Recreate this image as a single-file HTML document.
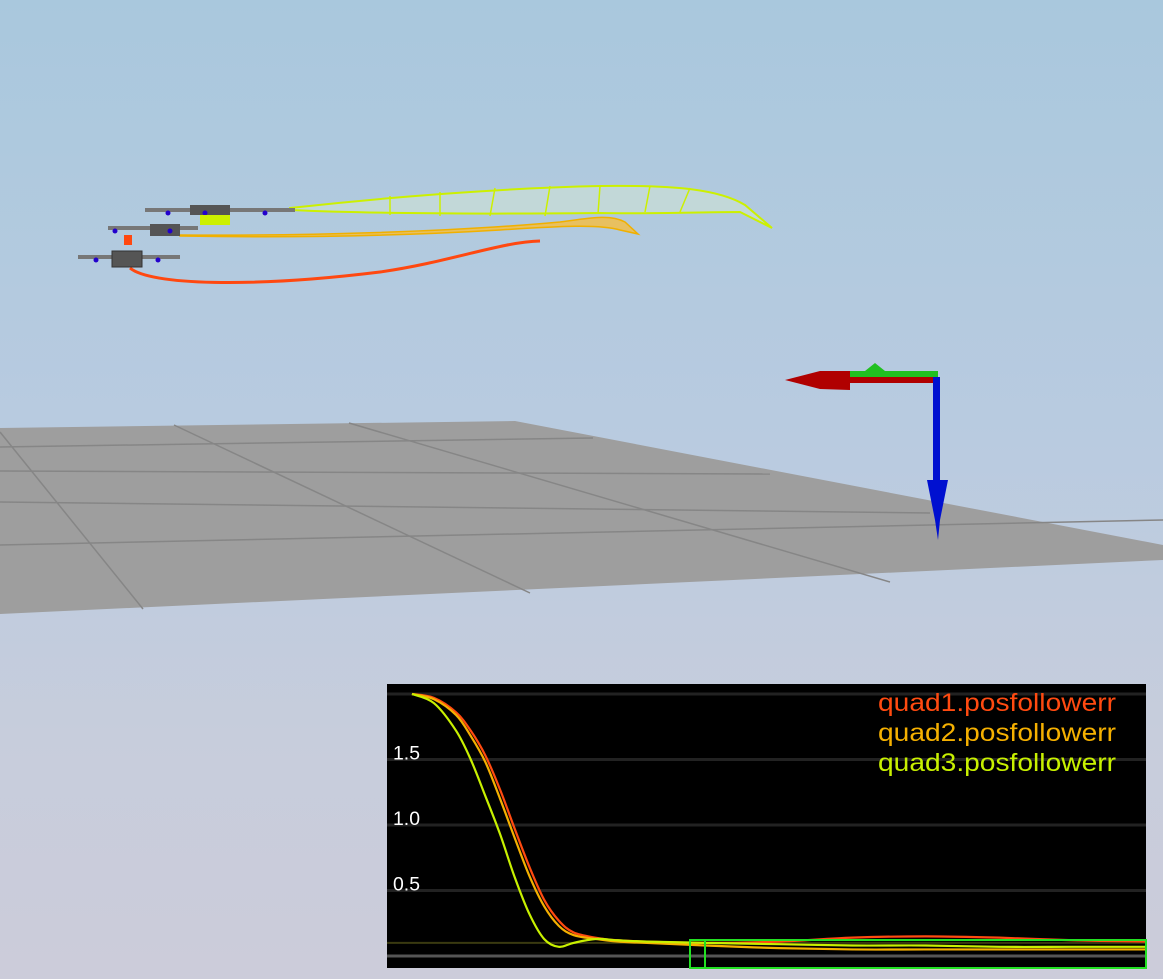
<!DOCTYPE html>
<html><head><meta charset="utf-8"><style>
html,body{margin:0;padding:0;width:1163px;height:979px;overflow:hidden}
body{background:linear-gradient(#a9c8dd 0%,#b9cbe0 45%,#c7cddc 75%,#ccccda 100%);font-family:"Liberation Sans",sans-serif}
svg{position:absolute;left:0;top:0}
</style></head><body>
<svg width="1163" height="979">
  <g>
    <polygon points="0,428 515,421 1163,545 1163,560 0,614" fill="#9e9e9e"/>
    <g stroke="#868686" stroke-width="1.5" fill="none">
      <line x1="0" y1="447" x2="593" y2="438"/>
      <line x1="0" y1="471" x2="770" y2="474"/>
      <line x1="0" y1="502" x2="930" y2="513"/>
      <line x1="0" y1="545" x2="1163" y2="520"/>
      <line x1="143" y1="609" x2="0" y2="432"/>
      <line x1="530" y1="593" x2="174" y2="425"/>
      <line x1="890" y1="582" x2="349" y2="423"/>
    </g>
  </g>
  <g>
    <rect x="848" y="371" width="90" height="6" fill="#20c020"/>
    <polygon points="865,371 875,363 885,371" fill="#20c020"/>
    <rect x="800" y="377" width="138" height="6" fill="#b00000"/>
    <polygon points="785,380 820,371 850,371 850,390 820,389" fill="#b00000"/>
    <rect x="933" y="377" width="7" height="110" fill="#0010d0"/>
    <polygon points="927,480 948,480 940,520 938,540 935,520" fill="#0010d0"/>
  </g>
  <g>
    <path d="M290,208 C380,198 500,188 600,186 C680,185 720,190 745,205 L772,228 L740,212 C700,212 650,214 600,213 C500,214 380,214 290,210 Z" fill="#c2d8d8" stroke="#ccf000" stroke-width="2"/>
    <g stroke="#ccf000" stroke-width="1.5">
      <line x1="390" y1="196" x2="390" y2="215"/><line x1="440" y1="192" x2="440" y2="216"/>
      <line x1="495" y1="188" x2="490" y2="216"/><line x1="550" y1="186" x2="545" y2="216"/>
      <line x1="600" y1="186" x2="598" y2="214"/><line x1="650" y1="186" x2="645" y2="212"/>
      <line x1="690" y1="188" x2="680" y2="212"/>
    </g>
    <path d="M180,235 C300,236 450,232 560,222 C590,218 610,214 625,222 L638,234 L620,230 C600,224 560,226 500,230 C400,236 300,238 180,236 Z" fill="#e8c060" stroke="#f0b000" stroke-width="1.5"/>
    <path d="M130,268 C150,285 250,288 380,272 C450,262 500,242 540,241" fill="none" stroke="#ff4810" stroke-width="3"/>
    <rect x="124" y="235" width="8" height="10" fill="#ff4810"/>
  </g>
  <g>
    <g>
      <rect x="145" y="208" width="150" height="4" fill="#777"/><rect x="190" y="205" width="40" height="10" fill="#555"/>
      <circle cx="168" cy="213" r="2.5" fill="#20c"/><circle cx="265" cy="213" r="2.5" fill="#20c"/><circle cx="205" cy="213" r="2.5" fill="#20c"/>
      <rect x="200" y="215" width="30" height="10" fill="#ccf000"/>
    </g>
    <g>
      <rect x="108" y="226" width="90" height="4" fill="#777"/><rect x="150" y="224" width="30" height="12" fill="#555"/>
      <circle cx="115" cy="231" r="2.5" fill="#20c"/><circle cx="170" cy="231" r="2.5" fill="#20c"/>
    </g>
    <g>
      <rect x="78" y="255" width="102" height="4" fill="#777"/><rect x="112" y="251" width="30" height="16" fill="#555" stroke="#333"/>
      <circle cx="96" cy="260" r="2.5" fill="#20c"/><circle cx="158" cy="260" r="2.5" fill="#20c"/>
    </g>
  </g>
</svg>
<svg id="chart" width="1163" height="979">
  <rect x="387" y="684" width="759" height="284" fill="#000"/>
  <g id="grid"></g>
  <g id="series"></g>
  <rect x="690" y="940" width="456" height="28" fill="none" stroke="#22e022" stroke-width="2"/>
  <line x1="705" y1="940" x2="705" y2="968" stroke="#22e022" stroke-width="2"/>
  <g font-size="25" text-anchor="start">
    <text x="878" y="711" fill="#ff4a10" textLength="238" lengthAdjust="spacingAndGlyphs">quad1.posfollowerr</text>
    <text x="878" y="741" fill="#f5b000" textLength="238" lengthAdjust="spacingAndGlyphs">quad2.posfollowerr</text>
    <text x="878" y="771" fill="#c8f000" textLength="238" lengthAdjust="spacingAndGlyphs">quad3.posfollowerr</text>
  </g>
</svg>
<script>
const times=[0,3,6,8,10,12,14,16,18,20,22,25,28,32,40,50,60,70,80,90,100];
const quad1=[2.0,1.97,1.86,1.72,1.53,1.27,0.97,0.68,0.43,0.27,0.18,0.14,0.12,0.11,0.1,0.11,0.14,0.15,0.14,0.12,0.11];
const quad2=[2.0,1.96,1.84,1.68,1.48,1.2,0.9,0.61,0.38,0.23,0.16,0.13,0.11,0.1,0.08,0.06,0.05,0.05,0.05,0.05,0.05];
const quad3=[2.0,1.93,1.72,1.5,1.22,0.93,0.6,0.32,0.13,0.07,0.1,0.13,0.12,0.11,0.1,0.09,0.08,0.08,0.07,0.07,0.07];
const yTicks=[0.5,1.0,1.5];
const gridVals=[0,0.5,1.0,1.5,2.0];
const NS='http://www.w3.org/2000/svg';
const xs=t=>412+t*7.34;
const ys=v=>956-v*131;
const grid=document.getElementById('grid');
gridVals.forEach(v=>{
  const l=document.createElementNS(NS,'line');
  l.setAttribute('x1',387);l.setAttribute('x2',1146);l.setAttribute('y1',ys(v));l.setAttribute('y2',ys(v));
  l.setAttribute('stroke',v===0?'#555':'#222');l.setAttribute('stroke-width',3);
  
  
  grid.appendChild(l);
});
const ol=document.createElementNS(NS,'line');
ol.setAttribute('x1',387);ol.setAttribute('x2',1146);ol.setAttribute('y1',ys(0.1));ol.setAttribute('y2',ys(0.1));
ol.setAttribute('stroke','#3a3a10');ol.setAttribute('stroke-width',2);


grid.appendChild(ol);
yTicks.forEach(v=>{
  const t=document.createElementNS(NS,'text');
  t.setAttribute('x',393);t.setAttribute('y',ys(v)-0);t.setAttribute('fill','#fff');
  t.setAttribute('font-size','19');t.setAttribute('textLength','27');t.setAttribute('lengthAdjust','spacingAndGlyphs');
  t.textContent=v.toFixed(1);
  
  
  grid.appendChild(t);
});
function smooth(vals){
  const p=vals.map((v,i)=>[xs(times[i]),ys(v)]);
  let d='M'+p[0][0]+','+p[0][1];
  for(let i=0;i<p.length-1;i++){
    const p0=p[i-1]||p[i],p1=p[i],p2=p[i+1],p3=p[i+2]||p2;
    const c1=[p1[0]+(p2[0]-p0[0])/6,p1[1]+(p2[1]-p0[1])/6];
    const c2=[p2[0]-(p3[0]-p1[0])/6,p2[1]-(p3[1]-p1[1])/6];
    d+=' C'+c1+' '+c2+' '+p2;
  }
  return d;
}
const ser=document.getElementById('series');
[[quad1,'#ff4a10','series-quad1'],[quad2,'#f5b000','series-quad2'],[quad3,'#c8f000','series-quad3']].forEach(s=>{
  const p=document.createElementNS(NS,'path');
  p.setAttribute('d',smooth(s[0]));p.setAttribute('fill','none');p.setAttribute('stroke',s[1]);p.setAttribute('stroke-width',2.2);
  
  
  ser.appendChild(p);
});
</script>
</body></html>
